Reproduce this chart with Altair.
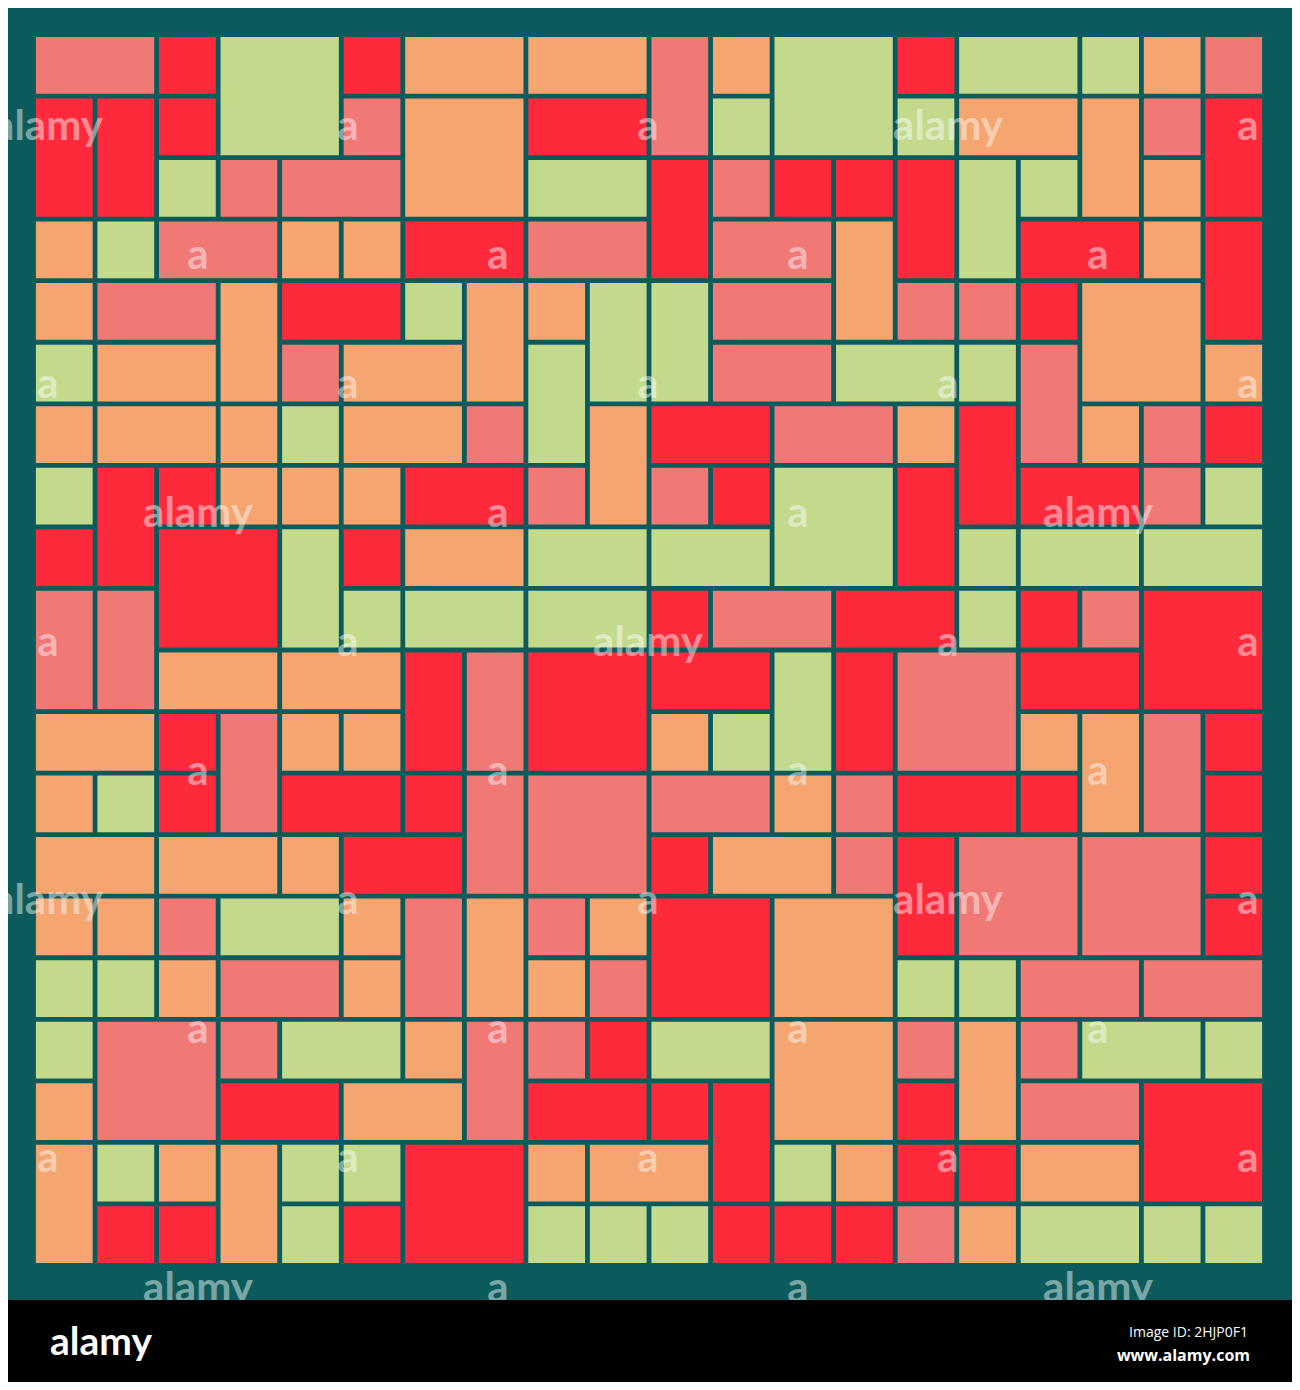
import altair as alt
import pandas as pd

# ---- colour categories -------------------------------------------------
R, S, O, G = "red", "salmon", "orange", "green"
COLOR_NAMES = [R, S, O, G]
COLOR_HEX = ["#FE2A3B", "#F07976", "#F5A570", "#C3DA8D"]
TEAL = "#0C5B5C"

# ---- mosaic tiles: (column, width, height, colour) per grid row --------
row00 = [(0, 2, 1, S), (2, 1, 1, R), (3, 2, 2, G), (5, 1, 1, R), (6, 2, 1, O), (8, 2, 1, O),
         (10, 1, 2, S), (11, 1, 1, O), (12, 2, 2, G), (14, 1, 1, R), (15, 2, 1, G), (17, 1, 1, G),
         (18, 1, 1, O), (19, 1, 1, S)]
row01 = [(0, 1, 2, R), (1, 1, 2, R), (2, 1, 1, R), (5, 1, 1, S), (6, 2, 2, O), (8, 2, 1, R),
         (11, 1, 1, G), (14, 1, 1, G), (15, 2, 1, O), (17, 1, 2, O), (18, 1, 1, S), (19, 1, 2, R)]
row02 = [(2, 1, 1, G), (3, 1, 1, S), (4, 2, 1, S), (8, 2, 1, G), (10, 1, 2, R), (11, 1, 1, S),
         (12, 1, 1, R), (13, 1, 1, R), (14, 1, 2, R), (15, 1, 2, G), (16, 1, 1, G), (18, 1, 1, O)]
row03 = [(0, 1, 1, O), (1, 1, 1, G), (2, 2, 1, S), (4, 1, 1, O), (5, 1, 1, O), (6, 2, 1, R),
         (8, 2, 1, S), (11, 2, 1, S), (13, 1, 2, O), (16, 2, 1, R), (18, 1, 1, O), (19, 1, 2, R)]
row04 = [(0, 1, 1, O), (1, 2, 1, S), (3, 1, 2, O), (4, 2, 1, R), (6, 1, 1, G), (7, 1, 2, O),
         (8, 1, 1, O), (9, 1, 2, G), (10, 1, 2, G), (11, 2, 1, S), (14, 1, 1, S), (15, 1, 1, S),
         (16, 1, 1, R), (17, 2, 2, O)]
row05 = [(0, 1, 1, G), (1, 2, 1, O), (4, 1, 1, S), (5, 2, 1, O), (8, 1, 2, G), (11, 2, 1, S),
         (13, 2, 1, G), (15, 1, 1, G), (16, 1, 2, S), (19, 1, 1, O)]
row06 = [(0, 1, 1, O), (1, 2, 1, O), (3, 1, 1, O), (4, 1, 1, G), (5, 2, 1, O), (7, 1, 1, S),
         (9, 1, 2, O), (10, 2, 1, R), (12, 2, 1, S), (14, 1, 1, O), (15, 1, 2, R), (17, 1, 1, O),
         (18, 1, 1, S), (19, 1, 1, R)]
row07 = [(0, 1, 1, G), (1, 1, 2, R), (2, 1, 1, R), (3, 1, 1, O), (4, 1, 1, O), (5, 1, 1, O),
         (6, 2, 1, R), (8, 1, 1, S), (10, 1, 1, S), (11, 1, 1, R), (12, 2, 2, G), (14, 1, 2, R),
         (16, 2, 1, R), (18, 1, 1, S), (19, 1, 1, G)]
row08 = [(0, 1, 1, R), (2, 2, 2, R), (4, 1, 2, G), (5, 1, 1, R), (6, 2, 1, O), (8, 2, 1, G),
         (10, 2, 1, G), (15, 1, 1, G), (16, 2, 1, G), (18, 2, 1, G)]
row09 = [(0, 1, 2, S), (1, 1, 2, S), (5, 1, 1, G), (6, 2, 1, G), (8, 2, 1, G), (10, 1, 1, R),
         (11, 2, 1, S), (13, 2, 1, R), (15, 1, 1, G), (16, 1, 1, R), (17, 1, 1, S), (18, 2, 2, R)]
row10 = [(2, 2, 1, O), (4, 2, 1, O), (6, 1, 2, R), (7, 1, 2, S), (8, 2, 2, R), (10, 2, 1, R),
         (12, 1, 2, G), (13, 1, 2, R), (14, 2, 2, S), (16, 2, 1, R)]
row11 = [(0, 2, 1, O), (2, 1, 1, R), (3, 1, 2, S), (4, 1, 1, O), (5, 1, 1, O), (10, 1, 1, O),
         (11, 1, 1, G), (16, 1, 1, O), (17, 1, 2, O), (18, 1, 2, S), (19, 1, 1, R)]
row12 = [(0, 1, 1, O), (1, 1, 1, G), (2, 1, 1, R), (4, 2, 1, R), (6, 1, 1, R), (7, 1, 2, S),
         (8, 2, 2, S), (10, 2, 1, S), (12, 1, 1, O), (13, 1, 1, S), (14, 2, 1, R), (16, 1, 1, R),
         (19, 1, 1, R)]
row13 = [(0, 2, 1, O), (2, 2, 1, O), (4, 1, 1, O), (5, 2, 1, R), (10, 1, 1, R), (11, 2, 1, O),
         (13, 1, 1, S), (14, 1, 2, R), (15, 2, 2, S), (17, 2, 2, S), (19, 1, 1, R)]
row14 = [(0, 1, 1, O), (1, 1, 1, O), (2, 1, 1, S), (3, 2, 1, G), (5, 1, 1, O), (6, 1, 2, S),
         (7, 1, 2, O), (8, 1, 1, S), (9, 1, 1, O), (10, 2, 2, R), (12, 2, 2, O), (19, 1, 1, R)]
row15 = [(0, 1, 1, G), (1, 1, 1, G), (2, 1, 1, O), (3, 2, 1, S), (5, 1, 1, O), (8, 1, 1, O),
         (9, 1, 1, S), (14, 1, 1, G), (15, 1, 1, G), (16, 2, 1, S), (18, 2, 1, S)]
row16 = [(0, 1, 1, G), (1, 2, 2, S), (3, 1, 1, S), (4, 2, 1, G), (6, 1, 1, O), (7, 1, 2, S),
         (8, 1, 1, S), (9, 1, 1, R), (10, 2, 1, G), (12, 2, 2, O), (14, 1, 1, S), (15, 1, 2, O),
         (16, 1, 1, S), (17, 2, 1, G), (19, 1, 1, G)]
row17 = [(0, 1, 1, O), (3, 2, 1, R), (5, 2, 1, O), (8, 2, 1, R), (10, 1, 1, R), (11, 1, 2, R),
         (14, 1, 1, R), (16, 2, 1, S), (18, 2, 2, R)]
row18 = [(0, 1, 2, O), (1, 1, 1, G), (2, 1, 1, O), (3, 1, 2, O), (4, 1, 1, G), (5, 1, 1, G),
         (6, 2, 2, R), (8, 1, 1, O), (9, 2, 1, O), (12, 1, 1, G), (13, 1, 1, O), (14, 1, 1, R),
         (15, 1, 1, R), (16, 2, 1, O)]
row19 = [(1, 1, 1, R), (2, 1, 1, R), (4, 1, 1, G), (5, 1, 1, R), (8, 1, 1, G), (9, 1, 1, G),
         (10, 1, 1, G), (11, 1, 1, R), (12, 1, 1, R), (13, 1, 1, R), (14, 1, 1, S), (15, 1, 1, O),
         (16, 2, 1, G), (18, 1, 1, G), (19, 1, 1, G)]

GRID_ROWS = [row00, row01, row02, row03, row04, row05, row06, row07, row08, row09,
             row10, row11, row12, row13, row14, row15, row16, row17, row18, row19]

# ---- footer texts ------------------------------------------------------
LOGO_TEXT = "alamy"
IMAGE_ID_TEXT = "Image ID: 2HJP0F1"
SITE_TEXT = "www.alamy.com"
WATERMARK_WORD = "alamy"
WATERMARK_LETTER = "a"

# ---- build table -------------------------------------------------------
records = []
for r, cells in enumerate(GRID_ROWS):
    for (c, w, h, col) in cells:
        records.append({"col": c, "row": r, "w": w, "h": h, "color": col})
tiles_df = pd.DataFrame(records)

# ---- geometry (pixels in chart space; page margin is 8px) ---------------
W, H = 1284, 1374
UNIT = 61.55
OX, OY = 25.5, 26.5
INSET = 0.039
x_dom = [-OX / UNIT, (W - OX) / UNIT]
y_dom = [-OY / UNIT, (H - OY) / UNIT]

xs = alt.Scale(domain=x_dom, nice=False, zero=False)
ys = alt.Scale(domain=y_dom, nice=False, zero=False, reverse=True)

tiles = alt.Chart(tiles_df).transform_calculate(
    x0=f"datum.col + {INSET}",
    x1=f"datum.col + datum.w - {INSET}",
    y0=f"datum.row + {INSET}",
    y1=f"datum.row + datum.h - {INSET}",
).mark_rect(strokeWidth=0).encode(
    x=alt.X("x0:Q", scale=xs, axis=None),
    x2="x1:Q",
    y=alt.Y("y0:Q", scale=ys, axis=None),
    y2="y1:Q",
    color=alt.Color("color:N", scale=alt.Scale(domain=COLOR_NAMES, range=COLOR_HEX), legend=None),
)

# ---- faint watermark lattice (decoration) -------------------------------
lat_rows = [128, 257, 386, 515, 644, 773, 902, 1031, 1160, 1290]
lat_a = [48, 348, 648, 948, 1248]
lat_b = [198, 498, 798, 1098]
word_spots = {(48, 128), (948, 128), (198, 515), (1098, 515), (648, 644),
              (48, 902), (948, 902), (198, 1290), (1098, 1290)}
wm = []
for i, yy in enumerate(lat_rows):
    for xx in (lat_a if i % 2 == 0 else lat_b):
        label = WATERMARK_WORD if (xx, yy) in word_spots else WATERMARK_LETTER
        wm.append({"gx": (xx - 8 - OX) / UNIT, "gy": (yy + 12 - 8 - OY) / UNIT, "label": label})
wm_df = pd.DataFrame(wm)

NARROW = "Lato, Roboto, Liberation Sans, sans-serif"

watermarks = alt.Chart(wm_df).mark_text(
    font=NARROW, fontWeight="bold", fontSize=42, color="white", opacity=0.45,
    align="center", baseline="alphabetic",
).encode(
    x=alt.X("gx:Q", scale=xs, axis=None),
    y=alt.Y("gy:Q", scale=ys, axis=None),
    text="label:N",
)

# ---- black footer band --------------------------------------------------
band = alt.Chart(pd.DataFrame({"k": [0]})).mark_rect(color="black").encode(
    x=alt.value(0), x2=alt.value(W), y=alt.value(1292), y2=alt.value(H)
)

logo = alt.Chart(pd.DataFrame({"t": [LOGO_TEXT]})).mark_text(
    font=NARROW, fontWeight="bold", fontSize=39, color="white", align="left", baseline="alphabetic",
).encode(x=alt.value(42), y=alt.value(1347), text="t:N")

image_id = alt.Chart(pd.DataFrame({"t": [IMAGE_ID_TEXT]})).mark_text(
    font="Open Sans, DejaVu Sans, sans-serif", fontSize=14, color="white",
    align="right", baseline="alphabetic",
).encode(x=alt.value(1240), y=alt.value(1329), text="t:N")

site = alt.Chart(pd.DataFrame({"t": [SITE_TEXT]})).mark_text(
    font="Open Sans, DejaVu Sans, sans-serif", fontSize=16, fontWeight="bold", color="white",
    align="right", baseline="alphabetic",
).encode(x=alt.value(1242), y=alt.value(1353), text="t:N")

chart = alt.layer(tiles, watermarks, band, logo, image_id, site).properties(
    width=W, height=H, background=TEAL, padding=0, autosize="none"
).configure_view(stroke=None)

chart.save("out.html", embed_options={"renderer": "svg", "actions": False})
